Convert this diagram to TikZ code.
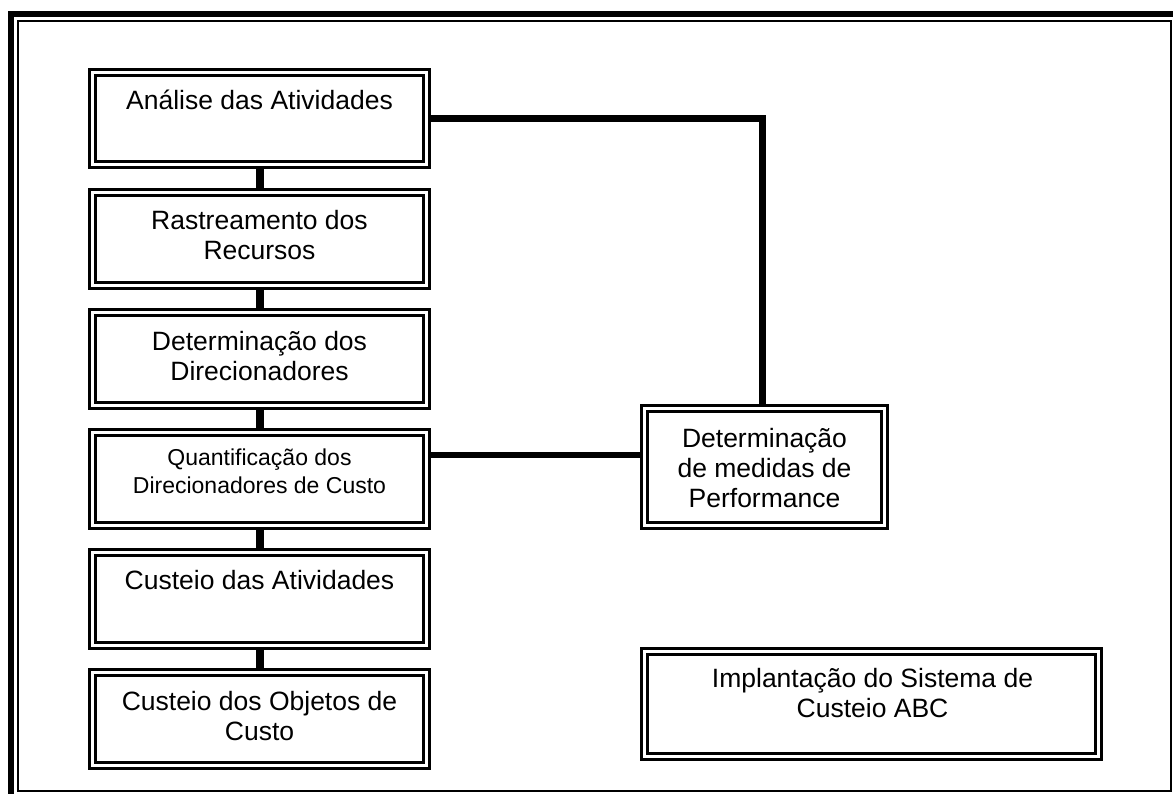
\documentclass[tikz,border=0pt]{standalone}
\usepackage{fontspec}
\setmainfont{Liberation Sans}
\begin{document}
\begin{tikzpicture}[x=0.5pt,y=-0.5pt,
  box/.style={draw, double, line width=1.4pt, double distance=1.6pt,
    inner sep=0pt, outer sep=2.2pt, minimum width=167.1pt, minimum height=46.6pt},
  txt/.style={anchor=base, align=center, inner sep=0pt,
    font=\fontsize{13.25pt}{15pt}\selectfont},
  txtsmall/.style={anchor=base, align=center, inner sep=0pt,
    font=\fontsize{11.5pt}{14pt}\selectfont},
  vlink/.style={line width=4pt},
  hlink/.style={line width=3.4pt}]
\useasboundingbox (0,0) rectangle (1173,794);
% outer frame
\fill (8,11) rectangle (1173,17);
\fill (8,11) rectangle (14,794);
\draw[line width=0.7pt] (18,21) rectangle (1171,791);
% boxes
\node[box, minimum height=46.1pt] (b1) at (259.5,118.5) {};
\node[box] (b2) at (259.5,239) {};
\node[box] (b3) at (259.5,359) {};
\node[box] (b4) at (259.5,479) {};
\node[box] (b5) at (259.5,599) {};
\node[box] (b6) at (259.5,719) {};
\node[box, minimum width=120.1pt, minimum height=58.6pt] (b7) at (764.5,467) {};
\node[box, minimum width=227.1pt, minimum height=52.6pt] (b8) at (871.5,704) {};
% texts (anchor = baseline of the last line)
\node[txt] (t1) at (259.5,109) {Análise das Atividades};
\node[txt] (t2) at (259.5,259) {Rastreamento dos\\Recursos};
\node[txt] (t3) at (259.5,380) {Determinação dos\\Direcionadores};
\node[txtsmall] (t4) at (259.5,493) {Quantificação dos\\Direcionadores de Custo};
\node[txt] (t5) at (259.5,589) {Custeio das Atividades};
\node[txt] (t6) at (259.5,740) {Custeio dos Objetos de\\Custo};
\node[txt] (t7) at (764.5,507) {Determinação\\de medidas de\\Performance};
\node[txt] (t8) at (872.5,717) {Implantação do Sistema de\\Custeio ABC};
% connectors
\draw[vlink] (b1.south) -- (b2.north);
\draw[vlink] (b2.south) -- (b3.north);
\draw[vlink] (b3.south) -- (b4.north);
\draw[vlink] (b4.south) -- (b5.north);
\draw[vlink] (b5.south) -- (b6.north);
\draw[hlink, line join=miter] (b1.east) -| ([xshift=-1pt]b7.north);
\coordinate (c4) at (431,455);
\draw[hlink] (b4.east |- c4) -- (b7.west |- c4);
\end{tikzpicture}
\end{document}
